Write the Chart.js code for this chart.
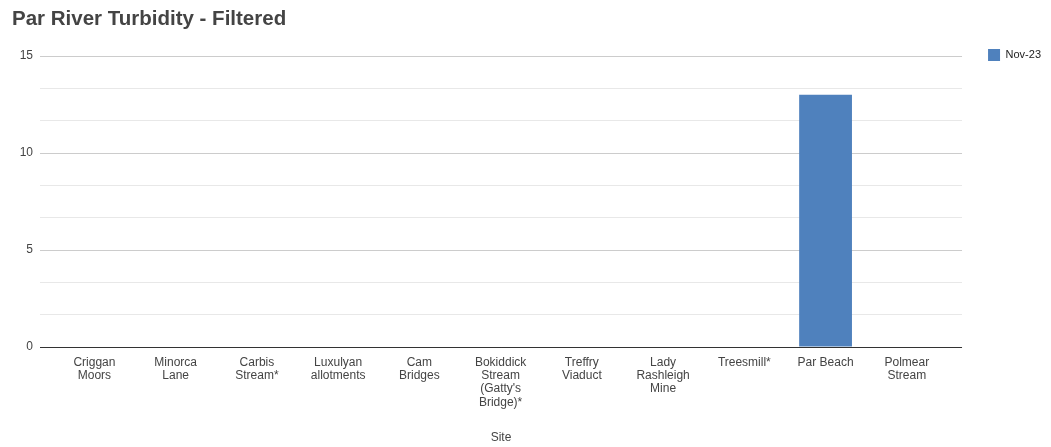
<!DOCTYPE html>
<html>
<head>
<meta charset="utf-8">
<script src="https://cdn.jsdelivr.net/npm/chart.js@4.4.1/dist/chart.umd.min.js"></script>
<style>
  html, body { margin: 0; padding: 0; background: #ffffff; }
  #wrap { width: 1051px; height: 447px; }
</style>
</head>
<body>
<div id="wrap"><canvas id="c" width="1051" height="447"></canvas></div>
<script>
// ---- data ----
const chartTitle = 'Par River Turbidity - Filtered';
const xAxisTitle = 'Site';
const seriesName = 'Nov-23';
const sites = [
  ['Criggan', 'Moors'],
  ['Minorca', 'Lane'],
  ['Carbis', 'Stream*'],
  ['Luxulyan', 'allotments'],
  ['Cam', 'Bridges'],
  ['Bokiddick', 'Stream', "(Gatty's", 'Bridge)*'],
  ['Treffry', 'Viaduct'],
  ['Lady', 'Rashleigh', 'Mine'],
  ['Treesmill*'],
  ['Par Beach'],
  ['Polmear', 'Stream']
];
const turbidity = [0, 0, 0, 0, 0, 0, 0, 0, 0, 13, 0];
const yMajorTicks = [0, 5, 10, 15];
const yMinorPerMajor = 3;

// ---- derived ----
const FONT = '"Liberation Sans", Arial, sans-serif';
const barColor = '#4f81bd';
const yTickValues = [];
for (let i = 0; i < yMajorTicks.length - 1; i++) {
  const a = yMajorTicks[i], b = yMajorTicks[i + 1];
  for (let k = 0; k < yMinorPerMajor; k++) yTickValues.push(a + (b - a) * k / yMinorPerMajor);
}
yTickValues.push(yMajorTicks[yMajorTicks.length - 1]);
const isMajor = v => yMajorTicks.some(m => Math.abs(m - v) < 1e-6);
const points = turbidity.map((v, i) => ({ x: i, y: v }));

// place the legend level with the top of the plot area
const legendNudge = {
  id: 'legendNudge',
  afterLayout(chart) {
    const lg = chart.legend;
    if (lg) {
      const h = lg.bottom - lg.top;
      lg.top = chart.chartArea.top - 7;
      lg.bottom = lg.top + h;
    }
  }
};

new Chart(document.getElementById('c'), {
  type: 'bar',
  data: {
    datasets: [{
      label: seriesName,
      data: points,
      backgroundColor: barColor,
      borderWidth: 0,
      barPercentage: 0.65,
      categoryPercentage: 1.0
    }]
  },
  options: {
    responsive: false,
    animation: false,
    devicePixelRatio: 1,
    layout: { padding: { left: 12, right: 0, top: 0, bottom: 0 } },
    plugins: {
      title: {
        display: true,
        text: chartTitle,
        align: 'start',
        color: '#444444',
        font: { family: FONT, size: 20.5, weight: 'bold' },
        padding: { top: 7, bottom: 24.4 }
      },
      legend: {
        display: true,
        position: 'right',
        align: 'start',
        labels: {
          boxWidth: 12,
          boxHeight: 12,
          padding: 0,
          color: '#222222',
          font: { family: FONT, size: 11 }
        }
      },
      tooltip: { enabled: false }
    },
    scales: {
      x: {
        type: 'linear',
        offset: false,
        min: -0.5 - 0.17,
        max: sites.length - 0.5 + 0.18,
        grid: { display: false, drawTicks: false },
        border: { display: false },
        afterBuildTicks: s => { s.ticks = sites.map((_, i) => ({ value: i })); },
        afterFit: s => { s.height = 100; },
        ticks: {
          autoSkip: false,
          maxRotation: 0,
          minRotation: 0,
          padding: 9,
          color: '#444444',
          font: { family: FONT, size: 12, lineHeight: 1.1 },
          callback: v => sites[v]
        },
        title: {
          display: true,
          text: xAxisTitle,
          color: '#444444',
          font: { family: FONT, size: 12 },
          padding: { top: 0, bottom: 2 }
        }
      },
      y: {
        type: 'linear',
        min: yMajorTicks[0],
        max: yMajorTicks[yMajorTicks.length - 1],
        afterBuildTicks: s => { s.ticks = yTickValues.map(v => ({ value: v })); },
        afterFit: s => { s.width = 28; },
        border: { display: false },
        grid: {
          drawTicks: false,
          lineWidth: 1,
          color: ctx => {
            const v = ctx.tick ? ctx.tick.value : null;
            if (v === 0) return '#333333';
            return isMajor(v) ? '#cccccc' : '#e8e8e8';
          }
        },
        ticks: {
          padding: 7,
          color: '#444444',
          font: { family: FONT, size: 12 },
          callback: v => isMajor(v) ? String(Math.round(v)) : ''
        }
      },
      yR: {
        type: 'linear',
        position: 'right',
        display: true,
        grid: { display: false, drawTicks: false },
        border: { display: false },
        ticks: { display: false },
        afterFit: s => { s.width = 26; }
      }
    }
  },
  plugins: [legendNudge]
});
</script>
</body>
</html>
